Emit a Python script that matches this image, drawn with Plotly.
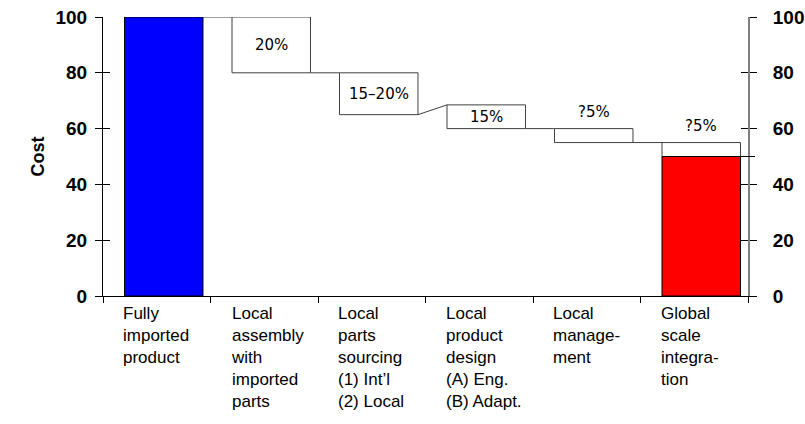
import plotly.graph_objects as go

# ---- data ----
categories = [
    "Fully<br>imported<br>product",
    "Local<br>assembly<br>with<br>imported<br>parts",
    "Local<br>parts<br>sourcing<br>(1) Int’l<br>(2) Local",
    "Local<br>product<br>design<br>(A) Eng.<br>(B) Adapt.",
    "Local<br>manage-<br>ment",
    "Global<br>scale<br>integra-<br>tion",
]
box_top = [100, 100, 80, 68.5, 60, 55]
box_bottom = [0, 80, 65, 60, 55, 50]
running_cost = [100, 80, 65, 60, 55, 50]
final_value = 50
box_labels = ["", "20%", "15–20%", "15%", "?5%", "?5%"]
label_inside = [False, True, True, True, False, False]
y_ticks = [0, 20, 40, 60, 80, 100]

# ---- styling ----
n = len(categories)
bar_offset = 0.2
bar_width = 0.73
centers = [i + bar_offset + bar_width / 2 for i in range(n)]
fills = ["#0000FF"] + ["#FFFFFF"] * (n - 1)
line_col = "#404040"

fig = go.Figure()

fig.add_trace(go.Bar(
    x=centers,
    y=[t - b for t, b in zip(box_top, box_bottom)],
    base=box_bottom,
    width=bar_width,
    marker=dict(color=fills, line=dict(color=["#000000"] + [line_col] * (n - 1), width=1)),
    hoverinfo="skip",
    showlegend=False,
))
# final bar (red)
fig.add_trace(go.Bar(
    x=[centers[-1]],
    y=[final_value],
    base=[0],
    width=bar_width,
    marker=dict(color="#FF0000", line=dict(color="#000000", width=1)),
    hoverinfo="skip",
    showlegend=False,
))

# connectors
cx, cy = [], []
for i in range(n - 1):
    cx += [centers[i] + bar_width / 2, centers[i + 1] - bar_width / 2, None]
    cy += [running_cost[i], box_top[i + 1], None]
fig.add_trace(go.Scatter(x=cx, y=cy, mode="lines", line=dict(color=line_col, width=1),
                         hoverinfo="skip", showlegend=False))

# dummy traces for extra overlay axes (crossing ticks)
for ax in ["y2", "y3", "y4"]:
    fig.add_trace(go.Scatter(x=[], y=[], yaxis=ax, showlegend=False, hoverinfo="skip"))

plot_w = 805 - 103 - 57
# final connector extending past the right axis
fig.add_shape(type="line", xref="paper", yref="y",
              x0=(centers[-1] + bar_width / 2) / n, x1=1 + 7 / plot_w,
              y0=running_cost[-1], y1=running_cost[-1],
              line=dict(color="#000000", width=1))

# box labels
for i, lab in enumerate(box_labels):
    if not lab:
        continue
    if label_inside[i]:
        yv = (box_top[i] + box_bottom[i]) / 2
        ya = "middle"
    else:
        yv = box_top[i] + 2.0
        ya = "bottom"
    fig.add_annotation(x=centers[i], y=yv, text=lab, showarrow=False, yanchor=ya,
                       font=dict(family="DejaVu Sans", size=15, color="#000000"))

# category labels
for i, cat in enumerate(categories):
    fig.add_annotation(x=centers[i] - bar_width / 2 - 0.03, y=-0.02, yref="paper", xref="x",
                       text=cat, showarrow=False, xanchor="left", yanchor="top", align="left",
                       font=dict(family="Arial, Liberation Sans", size=17, color="#000000"))

tickfont = dict(family="Arial, Liberation Sans", size=19, color="#000000", weight="bold")
fig.update_layout(
    width=805, height=424,
    margin=dict(l=103, r=57, t=17, b=128),
    paper_bgcolor="white", plot_bgcolor="white",
    barmode="overlay",
    xaxis=dict(range=[0, n], tickvals=list(range(n + 1)), showticklabels=False,
               ticks="outside", ticklen=6, tickcolor="#000000", showline=True,
               linecolor="#000000", linewidth=1, showgrid=False, zeroline=False,
               fixedrange=True, automargin=False),
    yaxis=dict(range=[0, 100], tickvals=y_ticks, ticks="outside", ticklen=7, tickcolor="#000000",
               showline=True, linecolor="#000000", linewidth=1, showgrid=False, zeroline=False,
               tickfont=tickfont, ticklabelstandoff=4, automargin=False,
               title=dict(text="Cost", font=dict(family="Arial, Liberation Sans", size=18,
                                                 color="#000000", weight="bold"), standoff=6)),
    yaxis2=dict(range=[0, 100], tickvals=y_ticks, overlaying="y", side="right", ticks="outside",
                ticklen=7, tickcolor="#000000", showline=True, linecolor="#808080", linewidth=2,
                showgrid=False, zeroline=False, tickfont=tickfont, ticklabelstandoff=12,
                automargin=False),
    yaxis3=dict(range=[0, 100], tickvals=y_ticks, overlaying="y", side="left", ticks="inside",
                ticklen=7, tickcolor="#000000", showticklabels=False, showline=False,
                showgrid=False, zeroline=False, automargin=False),
    yaxis4=dict(range=[0, 100], tickvals=y_ticks, overlaying="y", side="right", ticks="inside",
                ticklen=7, tickcolor="#000000", showticklabels=False, showline=False,
                showgrid=False, zeroline=False, automargin=False),
)

fig.write_html("out.html")
